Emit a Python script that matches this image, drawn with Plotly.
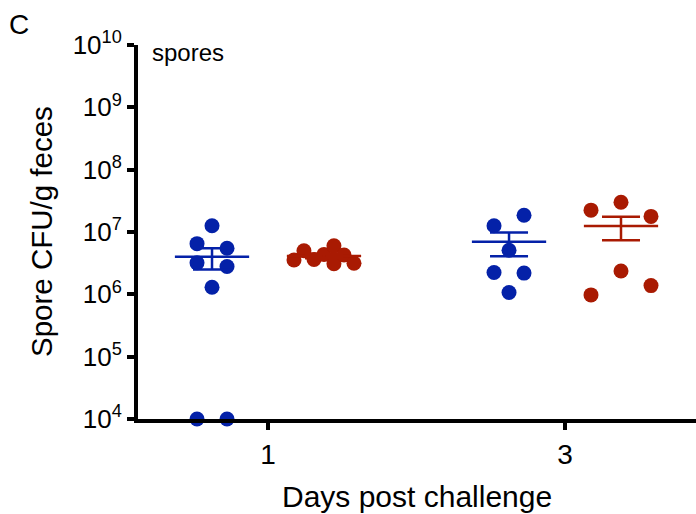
import numpy as np
import plotly.graph_objects as go

# ---- data ----
days = [1, 3]
tick_labels = ["1", "3"]
y_tickvals = [1e4, 1e5, 1e6, 1e7, 1e8, 1e9, 1e10]
y_ticktext = ["10<sup>4</sup>", "10<sup>5</sup>", "10<sup>6</sup>", "10<sup>7</sup>",
              "10<sup>8</sup>", "10<sup>9</sup>", "10<sup>10</sup>"]

blue_day1 = [1.26e7, 6.5e6, 5.5e6, 3.2e6, 2.8e6, 1.3e6, 1e4, 1e4]
blue_day3 = [1.26e7, 1.86e7, 5.1e6, 2.24e6, 2.19e6, 1.07e6]
red_day1 = [3.55e6, 5.0e6, 3.63e6, 4.37e6, 6.0e6, 3.1e6, 4.27e6, 3.16e6]
red_day3 = [2.24e7, 3.0e7, 1.78e7, 2.37e6, 1.38e6, 0.98e6]

# scatter (beeswarm) slot offsets, in x-axis units
jit_blue_day1 = [0, -0.101, 0.101, -0.101, 0.101, 0, -0.101, 0.101]
jit_blue_day3 = [-0.101, 0.101, 0, -0.101, 0.101, 0]
jit_red_day1 = [-0.202, -0.135, -0.067, 0, 0.067, 0.067, 0.135, 0.202]
jit_red_day3 = [-0.202, 0, 0.202, 0, 0.202, -0.202]

BLUE = "#0421A8"
RED = "#A91A02"
GROUP_OFF = 0.377
MEAN_HW = 0.25
CAP_HW = 0.128

fig = go.Figure()

groups = [
    (days[0] - GROUP_OFF, blue_day1, jit_blue_day1, BLUE),
    (days[0] + GROUP_OFF, red_day1, jit_red_day1, RED),
    (days[1] - GROUP_OFF, blue_day3, jit_blue_day3, BLUE),
    (days[1] + GROUP_OFF, red_day3, jit_red_day3, RED),
]

for cx, vals, jit, col in groups:
    fig.add_trace(go.Scatter(
        x=[cx + j for j in jit], y=vals, mode="markers",
        marker=dict(size=15, color=col, line=dict(width=0)),
        cliponaxis=False, showlegend=False, hoverinfo="y"))

for cx, vals, jit, col in groups:
    v = np.array(vals, dtype=float)
    m = v.mean()
    sem = v.std(ddof=1) / np.sqrt(len(v))
    xs = [cx - MEAN_HW, cx + MEAN_HW, None,
          cx, cx, None,
          cx - CAP_HW, cx + CAP_HW, None,
          cx - CAP_HW, cx + CAP_HW]
    ys = [m, m, None,
          m - sem, m + sem, None,
          m + sem, m + sem, None,
          m - sem, m - sem]
    fig.add_trace(go.Scatter(
        x=xs, y=ys, mode="lines", line=dict(color=col, width=2.5),
        showlegend=False, hoverinfo="skip", cliponaxis=False))

fig.update_layout(
    width=696, height=514,
    margin=dict(l=138, r=0, t=45, b=95, autoexpand=False),
    paper_bgcolor="white", plot_bgcolor="white",
    font=dict(family="Liberation Sans, Arial, sans-serif", color="black"),
    showlegend=False,
    xaxis=dict(
        range=[0.1246, 3.882], tickmode="array", tickvals=days, ticktext=tick_labels,
        showgrid=False, zeroline=False, showline=True, linecolor="black", linewidth=4,
        ticks="outside", ticklen=7, tickwidth=4, tickcolor="black",
        tickfont=dict(size=28), fixedrange=True),
    yaxis=dict(
        type="log", range=[4, 10], tickmode="array", tickvals=y_tickvals, ticktext=y_ticktext,
        showgrid=False, zeroline=False, showline=True, linecolor="black", linewidth=4,
        ticks="outside", ticklen=7, tickwidth=4, tickcolor="black",
        tickfont=dict(size=26), fixedrange=True),
    annotations=[
        dict(text="Spore CFU/g feces", xref="paper", yref="paper", x=-0.1738, y=0.5,
             xanchor="center", yanchor="middle", textangle=-90, showarrow=False,
             font=dict(size=29.5)),
        dict(text="Days post challenge", xref="paper", yref="paper", x=0.5, y=-0.206,
             xanchor="center", yanchor="middle", showarrow=False, font=dict(size=30)),
        dict(text="C", xref="paper", yref="paper", x=-0.2133, y=1.0535,
             xanchor="center", yanchor="middle", showarrow=False, font=dict(size=28)),
        dict(text="spores", xref="paper", yref="paper", x=0.0215, y=0.981,
             xanchor="left", yanchor="middle", showarrow=False, font=dict(size=24)),
    ],
)

# remove the default page margin so the figure fills the window
fig.write_html("out.html",
               config={"displayModeBar": False, "staticPlot": True},
               post_script="document.body.style.margin='0';document.body.style.overflow='hidden';")
